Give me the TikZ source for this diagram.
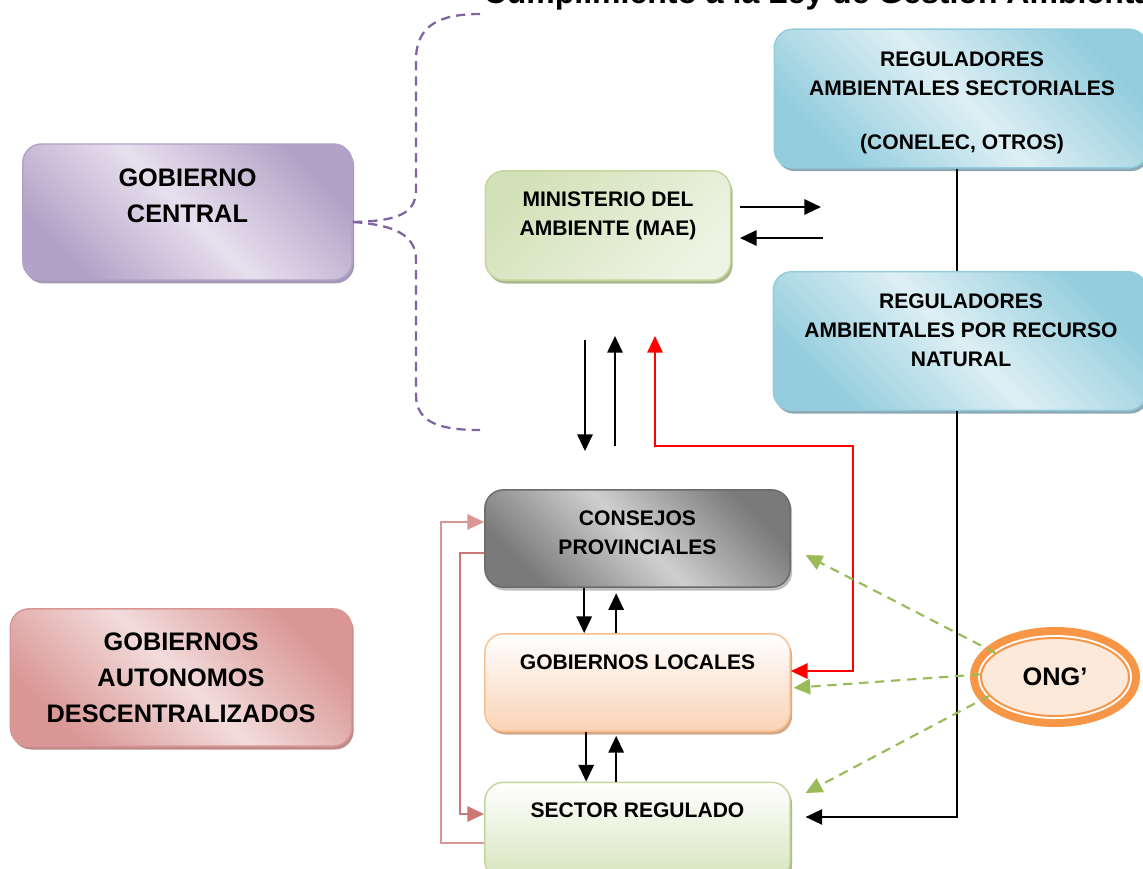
\documentclass[tikz,border=0pt]{standalone}
\usepackage{fontspec}
\setmainfont{Liberation Sans}
\usepackage{xcolor}
\usepackage{tikz}
\usetikzlibrary{shapes.geometric, arrows.meta, positioning, shadows}

\definecolor{gcdark}{HTML}{B3A2C7}
\definecolor{gclight}{HTML}{E6E0EE}
\definecolor{gcshade}{HTML}{A597B5}
\definecolor{maedark}{HTML}{D3E1B8}
\definecolor{maelight}{HTML}{EEF3E3}
\definecolor{maeline}{HTML}{C3D69B}
\definecolor{maeshade}{HTML}{A9B98C}
\definecolor{regdark}{HTML}{93CDDD}
\definecolor{reglight}{HTML}{DDEFF4}
\definecolor{regshade}{HTML}{8DA9B4}
\definecolor{cpdark}{HTML}{7A7A7A}
\definecolor{cplight}{HTML}{CFCFCF}
\definecolor{cpline}{HTML}{6B6B6B}
\definecolor{cpshade}{HTML}{BDBDBD}
\definecolor{gllow}{HTML}{FAD3B6}
\definecolor{glline}{HTML}{FAC090}
\definecolor{glshade}{HTML}{D6A88A}
\definecolor{srlow}{HTML}{D7E4BD}
\definecolor{srline}{HTML}{C3D69B}
\definecolor{gaddark}{HTML}{D99694}
\definecolor{gadlight}{HTML}{F2DCDB}
\definecolor{gadshade}{HTML}{BF8A88}
\definecolor{ongorange}{HTML}{F79646}
\definecolor{ongfill}{HTML}{FDE9D9}
\definecolor{linkgreen}{HTML}{9BBB59}
\definecolor{linkpink}{HTML}{D99694}
\definecolor{linkrose}{HTML}{CD7775}
\definecolor{bracketpurple}{HTML}{8064A2}

\tikzset{
    box/.style={rectangle, rounded corners=14pt, line width=1.1pt, inner sep=0pt},
    shadowed/.style={drop shadow={shadow xshift=1.5pt, shadow yshift=-2.5pt, fill=#1, opacity=1}},
    gloss/.style 2 args={top color=#1, bottom color=#1, middle color=#2, shading angle=-45},
    central/.style={box, draw=gcdark, gloss={gcdark}{gclight}, shadowed=gcshade, minimum width=247pt, minimum height=102pt},
    autonomous/.style={box, draw=gaddark, gloss={gaddark}{gadlight}, shadowed=gadshade, minimum width=256pt, minimum height=103pt},
    ministry/.style={box, draw=maeline, top color=maedark, bottom color=maelight, shading angle=45, shadowed=maeshade, minimum width=184pt, minimum height=82pt},
    regulator/.style={box, draw=regdark, gloss={regdark}{reglight}, shadowed=regshade, minimum width=280pt, minimum height=104pt},
    council/.style={box, draw=cpline, gloss={cpdark}{cplight}, shadowed=cpshade, minimum width=229pt, minimum height=73pt},
    localgov/.style={box, draw=glline, top color=white, bottom color=gllow, shadowed=glshade, minimum width=229pt, minimum height=73pt},
    regulated/.style={box, draw=srline, top color=white, bottom color=srlow, shadowed=maeshade, minimum width=229pt, minimum height=73pt},
    ngo/.style={ellipse, minimum width=111pt, minimum height=58.5pt, inner sep=0pt, fill=ongfill, draw=ongorange, line width=1.5pt,
        preaction={draw=ongorange, line width=16.5pt}, preaction={draw=white, line width=4.5pt},
        font=\bfseries\fontsize{19}{23}\selectfont},
    txt/.style={align=center, font=\bfseries\fontsize{15.8}{21.75}\selectfont},
    bigtxt/.style={align=center, font=\bfseries\fontsize{19}{27}\selectfont},
    tip/.style={Triangle[length=12.5pt, width=11.5pt]},
    arrow/.style={line width=1.5pt, -{Triangle[length=12.5pt, width=11.5pt]}},
    link/.style={line width=1.2pt},
    redarrow/.style={line width=1.5pt, red, {Triangle[length=12.5pt, width=11.5pt]}-{Triangle[length=12.5pt, width=11.5pt]}},
    greenarrow/.style={line width=1.6pt, linkgreen, dash pattern=on 7pt off 5pt, -{Triangle[length=12.5pt, width=11.5pt]}},
    pinkarrow/.style={line width=1.5pt, #1, -{Triangle[length=12.5pt, width=11.5pt]}},
    bracket/.style={line width=1.7pt, bracketpurple, dash pattern=on 7pt off 4.5pt}
}

\begin{document}
\begin{tikzpicture}[x=0.75pt, y=-0.75pt]
    \useasboundingbox (0,0) rectangle (1143,868);
    \clip (0,0) rectangle (1143,868);

    % title, cut at the top edge
    \node (title) [anchor=base west, font=\bfseries\fontsize{24}{28}\selectfont] at (479,3) {Cumplimiento a la Ley de Gestión Ambiental};

    % boxes
    \node (gc) [central] at (187.5,212) {};
    \node (gc-txt) [bigtxt] at (187.5,196) {GOBIERNO\\CENTRAL};
    \node (mae) [ministry] at (608,225.5) {};
    \node (mae-txt) [txt] at (608,216) {MINISTERIO DEL\\AMBIENTE (MAE)};
    \node (rsec) [regulator] at (961,98.5) {};
    \node (rsec-txt) [txt] at (962,103) {REGULADORES\\AMBIENTALES SECTORIALES\\[19pt](CONELEC, OTROS)};
    \node (rrn) [regulator] at (960,341) {};
    \node (rrn-txt) [txt] at (961,330) {REGULADORES\\AMBIENTALES POR RECURSO\\NATURAL};
    \node (cp) [council] at (637.5,538.5) {};
    \node (cp-txt) [txt] at (637.5,533) {CONSEJOS\\PROVINCIALES};
    \node (gl) [localgov] at (637.5,682.5) {};
    \node (gl-txt) [txt] at (637.5,662) {GOBIERNOS LOCALES};
    \node (sr) [regulated] at (637.5,831) {};
    \node (sr-txt) [txt] at (637.5,810) {SECTOR REGULADO};
    \node (gad) [autonomous] at (181,677.5) {};
    \node (gad-txt) [bigtxt] at (181,678) {GOBIERNOS\\AUTONOMOS\\DESCENTRALIZADOS};
    \node (ong) [ngo] at (1055,677) {ONG'};

    % free ends
    \coordinate (mae-out) at (740,207);
    \coordinate (reg-in) at (821,207);
    \coordinate (reg-out) at (823,238);
    \coordinate (mae-in) at (740,238);
    \coordinate (down-top) at (585,340);
    \coordinate (down-end) at (585,451);
    \coordinate (up-start) at (615,446);
    \coordinate (up-end) at (615,336);
    \coordinate (red-tip) at (655,336);
    \coordinate (red-turn) at (853,446);
    \coordinate (br-top) at (480,14);
    \coordinate (br-bottom) at (480,430);

    % bracket of the central government
    \draw [bracket] ([yshift=-7.5pt]gc.east) .. controls (395,221) and (416,215) .. (416,190) -- (416,60) .. controls (416,25) and (440,14) .. (br-top);
    \draw [bracket] ([yshift=-7.5pt]gc.east) .. controls (395,225) and (416,235) .. (416,260) -- (416,395) .. controls (416,425) and (445,430) .. (br-bottom);

    % MAE and regulators
    \draw [arrow] (mae-out) -- (reg-in);
    \draw [arrow] (reg-out) -- (mae-in);
    \draw [link] ([xshift=-3pt]rsec.south) -- ([xshift=-3pt]rsec.south |- rrn.north);
    \draw [arrow, line width=1.2pt] ([xshift=-2.25pt]rrn.south) |- ([xshift=11pt, yshift=10.5pt]sr.east);
    \draw [arrow] (down-top) -- (down-end);
    \draw [arrow] (up-start) -- (up-end);
    \draw [redarrow] (red-tip) |- (red-turn) |- ([yshift=8.6pt]gl.east);

    % between the decentralised levels
    \draw [arrow] ([xshift=-40pt]cp.south) -- ([xshift=-40pt]gl.north);
    \draw [arrow] ([xshift=-16pt]gl.north) -- ([xshift=-16pt, yshift=-4pt]cp.south);
    \draw [arrow] ([xshift=-38.5pt]gl.south) -- ([xshift=-38.5pt]sr.north);
    \draw [arrow] ([xshift=-16pt]sr.north) -- ([xshift=-16pt, yshift=-3pt]gl.south);
    \draw [pinkarrow=linkpink] ([yshift=-9pt]sr.west) -- ++(-32pt,0) |- ([yshift=12.4pt]cp.west);
    \draw [pinkarrow=linkrose] ([yshift=-10.9pt]cp.west) -- ++(-18pt,0) |- ([yshift=12.75pt]sr.west);

    % ONG
    \draw [greenarrow] (ong.158) -- ([xshift=11pt, yshift=-12.4pt]cp.east);
    \draw [greenarrow] (ong.178) -- ([xshift=2pt, yshift=-4pt]gl.east);
    \draw [greenarrow] (ong.196) -- ([xshift=11pt, yshift=28.5pt]sr.east);
\end{tikzpicture}
\end{document}
